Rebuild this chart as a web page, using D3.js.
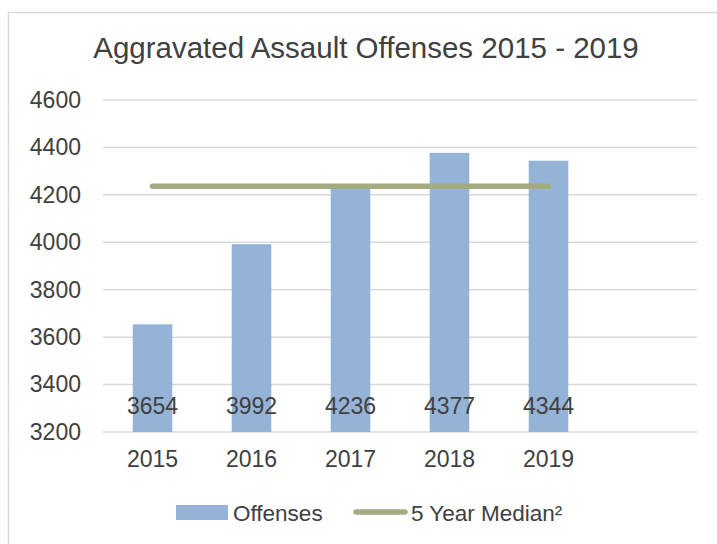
<!DOCTYPE html>
<html><head><meta charset="utf-8">
<script src="https://cdn.jsdelivr.net/npm/d3@7"></script>
<style>body{margin:0;background:#fff}svg{display:block}text{font-family:"Liberation Sans",Arial,sans-serif;fill:#404040}</style>
</head><body>
<script>
const years = ["2015","2016","2017","2018","2019"];
const offenses = [3654, 3992, 4236, 4377, 4344];
const median = [4236, 4236, 4236, 4236, 4236];
const yTicks = [3200, 3400, 3600, 3800, 4000, 4200, 4400, 4600];
const title = "Aggravated Assault Offenses 2015 - 2019";
const legendLabels = ["Offenses", "5 Year Median²"];

const W = 717, H = 544;
const FONT = "'Liberation Sans',Arial,sans-serif";
const svg = d3.select("body").append("svg").attr("width", W).attr("height", H);
svg.append("rect").attr("x", 8.5).attr("y", 12.5).attr("width", 720).attr("height", 540)
  .attr("fill", "#fff").attr("stroke", "#D9D9D9").attr("stroke-width", 1.5);

const x = d3.scaleBand().domain(years.concat([" "])).range([103, 697]).paddingInner(0.6).paddingOuter(0.3);
const y = d3.scaleLinear().domain([3200, 4600]).range([432, 100]);

svg.append("text").attr("x", 366).attr("y", 58).attr("text-anchor", "middle")
  .attr("font-size", 29.5).text(title);

// grid
svg.append("g").selectAll("line").data(yTicks).join("line")
  .attr("x1", 103).attr("x2", 697).attr("y1", d => y(d)).attr("y2", d => y(d))
  .attr("stroke", "#D9D9D9").attr("stroke-width", 1.5);

const yAxis = d3.axisLeft(y).tickValues(yTicks).tickSize(0).tickPadding(0).tickFormat(d3.format("d"));
const gy = svg.append("g").attr("transform", "translate(81,0)").call(yAxis);
gy.select(".domain").remove();
gy.selectAll("text").attr("font-size", 23).attr("fill", "#404040").style("font-family", FONT);

// bars
svg.append("g").selectAll("rect").data(years).join("rect")
  .attr("x", d => x(d)).attr("width", x.bandwidth())
  .attr("y", (d, i) => y(offenses[i])).attr("height", (d, i) => y(3200) - y(offenses[i]))
  .attr("fill", "#95B3D7");

// median line
const line = d3.line().x((d, i) => x(years[i]) + x.bandwidth() / 2).y(d => y(d));
svg.append("path").datum(median).attr("d", line).attr("fill", "none")
  .attr("stroke", "#A5AB81").attr("stroke-width", 5.5).attr("stroke-linecap", "round");

// data labels
svg.append("g").selectAll("text").data(years).join("text")
  .attr("x", d => x(d) + x.bandwidth() / 2).attr("y", 414).attr("text-anchor", "middle")
  .attr("font-size", 23).text((d, i) => offenses[i]);

const xAxis = d3.axisBottom(x).tickValues(years).tickSize(0).tickPadding(0);
const gx = svg.append("g").attr("transform", "translate(0,451)").call(xAxis);
gx.select(".domain").remove();
gx.selectAll("text").attr("font-size", 23).attr("fill", "#404040").style("font-family", FONT);

// legend
const lg = svg.append("g");
lg.append("rect").attr("x", 176).attr("y", 505).attr("width", 52).attr("height", 15).attr("fill", "#95B3D7");
lg.append("text").attr("x", 233).attr("y", 521).attr("font-size", 22.5).text(legendLabels[0]);
lg.append("line").attr("x1", 356).attr("x2", 405).attr("y1", 512).attr("y2", 512)
  .attr("stroke", "#A5AB81").attr("stroke-width", 5.5).attr("stroke-linecap", "round");
lg.append("text").attr("x", 411).attr("y", 521).attr("font-size", 22.5).text(legendLabels[1]);
</script>
</body></html>
